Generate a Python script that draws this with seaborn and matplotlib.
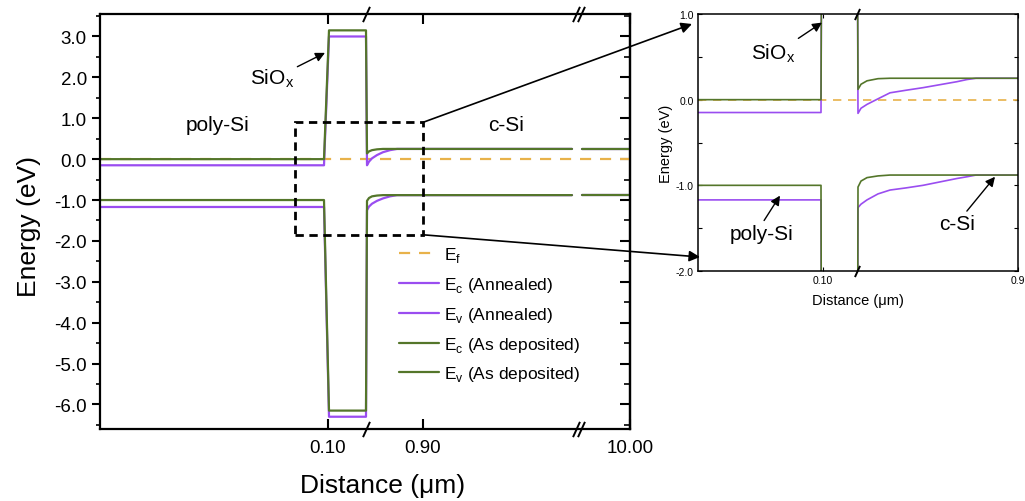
import numpy as np
import pandas as pd
import matplotlib
matplotlib.use('Agg')
import matplotlib.pyplot as plt
import matplotlib.transforms as mtransforms
from matplotlib.patches import Rectangle, ConnectionPatch
from matplotlib.ticker import MultipleLocator, FixedLocator, FixedFormatter
import seaborn as sns

# ---- data (x is position along the broken distance axis) ----
MAIN_X = [0, 224, 229, 266, 267, 269, 272, 277, 283, 290, 297, 472]
GREEN_EC = [0.0, 0.0, 3.15, 3.15, 0.14, 0.19, 0.22, 0.24, 0.25, 0.25, 0.25, 0.25]
PURPLE_EC = [-0.15, -0.15, 3.0, 3.0, -0.15, -0.06, 0.02, 0.1, 0.17, 0.22, 0.25, 0.25]
GREEN_EV = [-1.0, -1.0, -6.15, -6.15, -1.02, -0.95, -0.91, -0.89, -0.88, -0.88, -0.88, -0.88]
PURPLE_EV = [-1.17, -1.17, -6.3, -6.3, -1.25, -1.16, -1.09, -1.02, -0.96, -0.91, -0.88, -0.88]
FAR_X = [482, 530]          # piece after the // break
EF_X = [0, 530]

INSET_X = [0, 123, 124, 159, 160, 163, 169, 180, 192, 208, 225, 242, 259, 269, 278, 320]
IN_GREEN_EC = [0.0, 0.0, 3.15, 3.15, 0.12, 0.18, 0.22, 0.245, 0.25, 0.25, 0.25, 0.25, 0.25, 0.25, 0.25, 0.25]
IN_PURPLE_EC = [-0.15, -0.15, 3.0, 3.0, -0.16, -0.1, -0.055, 0.01, 0.08, 0.11, 0.14, 0.175, 0.21, 0.235, 0.25, 0.25]
IN_GREEN_EV = [-1.0, -1.0, -6.15, -6.15, -1.02, -0.95, -0.91, -0.89, -0.88, -0.88, -0.88, -0.88, -0.88, -0.88, -0.88, -0.88]
IN_PURPLE_EV = [-1.17, -1.17, -6.3, -6.3, -1.26, -1.22, -1.17, -1.1, -1.055, -1.03, -1.0, -0.96, -0.92, -0.9, -0.88, -0.88]
IN_EF_X = [0, 320]

MAIN_TICKS = [228, 323, 530]
MAIN_TICKLABELS = ['0.10', '0.90', '10.00']
INSET_TICKS = [125, 320]
INSET_TICKLABELS = ['0.10', '0.9']

LBL_EF = 'E$_\\mathregular{f}$'
LBL_ECA = 'E$_\\mathregular{c}$ (Annealed)'
LBL_EVA = 'E$_\\mathregular{v}$ (Annealed)'
LBL_ECD = 'E$_\\mathregular{c}$ (As deposited)'
LBL_EVD = 'E$_\\mathregular{v}$ (As deposited)'
ORDER = [LBL_EF, LBL_ECA, LBL_EVA, LBL_ECD, LBL_EVD]

PURPLE = '#9a4df0'
GREEN = '#54762a'
ORANGE = '#e8b24a'
PAL = {LBL_EF: ORANGE, LBL_ECA: PURPLE, LBL_EVA: PURPLE, LBL_ECD: GREEN, LBL_EVD: GREEN}
DASHES = {LBL_EF: (5, 4), LBL_ECA: '', LBL_EVA: '', LBL_ECD: '', LBL_EVD: ''}


def build(xs, series, far=None, ef_x=None):
    rows = []
    for name, ys in series.items():
        for x, y in zip(xs, ys):
            rows.append((x, y, name, 0))
        if far is not None:
            for x in far:
                rows.append((x, ys[-1], name, 1))
    for x in ef_x:
        rows.append((x, 0.0, LBL_EF, 0))
    return pd.DataFrame(rows, columns=['x', 'E', 'series', 'seg'])


main_df = build(MAIN_X, {LBL_ECA: PURPLE_EC, LBL_EVA: PURPLE_EV,
                         LBL_ECD: GREEN_EC, LBL_EVD: GREEN_EV}, FAR_X, EF_X)
inset_df = build(INSET_X, {LBL_ECA: IN_PURPLE_EC, LBL_EVA: IN_PURPLE_EV,
                           LBL_ECD: IN_GREEN_EC, LBL_EVD: IN_GREEN_EV}, None, IN_EF_X)

sns.set_style('ticks')
plt.rcParams['font.family'] = ['Liberation Sans', 'DejaVu Sans']
plt.rcParams['mathtext.fontset'] = 'custom'
plt.rcParams['mathtext.rm'] = 'Liberation Sans'
plt.rcParams.update({'text.color': 'black', 'axes.labelcolor': 'black',
                     'xtick.color': 'black', 'ytick.color': 'black',
                     'axes.edgecolor': 'black'})

fig = plt.figure(figsize=(10.25, 5.02), dpi=100)
ax = fig.add_axes([100 / 1025, 1 - 430 / 502, 530 / 1025, 415 / 502])
ax2 = fig.add_axes([698 / 1025, 1 - 272 / 502, 320 / 1025, 257 / 502])

# ---- main panel ----
sns.lineplot(data=main_df, x='x', y='E', hue='series', style='series', units='seg',
             estimator=None, sort=False, palette=PAL, dashes=DASHES,
             hue_order=ORDER, style_order=ORDER, lw=1.6, ax=ax)
ax.set_xlim(0, 530)
ax.set_ylim(-6.6, 3.55)
ax.yaxis.set_major_locator(MultipleLocator(1))
ax.yaxis.set_minor_locator(MultipleLocator(0.5))
ax.yaxis.set_major_formatter(matplotlib.ticker.FormatStrFormatter('%.1f'))
ax.xaxis.set_major_locator(FixedLocator(MAIN_TICKS))
ax.xaxis.set_major_formatter(FixedFormatter(MAIN_TICKLABELS))
ax.tick_params(axis='y', which='major', direction='out', length=6, width=1.5, labelsize=13.5)
ax.tick_params(axis='y', which='minor', direction='out', length=3, width=1.2)
ax.tick_params(axis='x', which='major', direction='in', length=7, width=1.5, top=True,
               labelsize=13.5, pad=7)
sec = ax.secondary_yaxis('right')
sec.yaxis.set_major_locator(MultipleLocator(1))
sec.yaxis.set_minor_locator(MultipleLocator(0.5))
sec.tick_params(which='major', direction='in', length=7, width=1.5, labelright=False)
sec.tick_params(which='minor', direction='in', length=4, width=1.2)
for sp in list(ax.spines.values()) + list(sec.spines.values()):
    sp.set_linewidth(1.6)
ax.set_xlabel('Distance (\u03bcm)', fontsize=19)
ax.xaxis.set_label_coords(0.534, -0.105)
ax.set_ylabel('Energy (eV)', fontsize=19)
ax.yaxis.set_label_coords(-0.112, 0.49)

leg = ax.legend(loc='upper left', bbox_to_anchor=(0.535, 0.48), frameon=False,
                fontsize=12.5, handlelength=2.3, labelspacing=0.62, handletextpad=0.3)

ax.add_patch(Rectangle((195, -1.85), 128, 2.75, fill=False, ec='k', lw=2,
                       ls=(0, (3, 2)), zorder=6))

ax.annotate('SiO$_\\mathregular{x}$', xy=(225, 2.6), xytext=(172, 2.0), fontsize=15,
            ha='center', va='center',
            arrowprops=dict(arrowstyle='-|>', color='k', lw=1, relpos=(0.95, 0.85),
                            mutation_scale=14, shrinkA=0, shrinkB=0))
ax.text(118, 0.85, 'poly-Si', fontsize=15, ha='center', va='center')
ax.text(406, 0.85, 'c-Si', fontsize=15, ha='center', va='center')


def breaks(a, x, n, gap, size):
    tr = mtransforms.blended_transform_factory(a.transData, a.transAxes)
    for yy in (0, 1):
        for k in range(n):
            a.plot([x + (k - (n - 1) / 2) * gap], [yy], transform=tr,
                   marker=[(-1, -2.2), (1, 2.2)], ms=size, mec='k', mew=1.4,
                   clip_on=False, zorder=7)


breaks(ax, 266, 1, 0, 11)
breaks(ax, 478, 2, 5, 11)

# ---- inset ----
sns.lineplot(data=inset_df, x='x', y='E', hue='series', style='series', units='seg',
             estimator=None, sort=False, palette=PAL, dashes=DASHES,
             hue_order=ORDER, style_order=ORDER, lw=1.2, legend=False, ax=ax2)
ax2.set_xlim(0, 320)
ax2.set_ylim(-2, 1)
ax2.yaxis.set_major_locator(MultipleLocator(1))
ax2.yaxis.set_minor_locator(MultipleLocator(0.5))
ax2.yaxis.set_major_formatter(matplotlib.ticker.FormatStrFormatter('%.1f'))
ax2.xaxis.set_major_locator(FixedLocator(INSET_TICKS))
ax2.xaxis.set_major_formatter(FixedFormatter(INSET_TICKLABELS))
ax2.tick_params(which='both', direction='in', right=True, top=True, labelsize=7.5,
                length=3, width=0.8, pad=3)
for sp in ax2.spines.values():
    sp.set_linewidth(1.1)
ax2.set_xlabel('Distance (\u03bcm)', fontsize=10.5, labelpad=6)
ax2.set_ylabel('Energy (eV)', fontsize=10.5, labelpad=2)
breaks(ax2, 159, 1, 0, 8)

ax2.annotate('SiO$_\\mathregular{x}$', xy=(124, 0.9), xytext=(75, 0.55), fontsize=15,
             ha='center', va='center',
             arrowprops=dict(arrowstyle='-|>', color='k', lw=1, relpos=(0.9, 0.9),
                             mutation_scale=14, shrinkA=0, shrinkB=0))
ax2.annotate('poly-Si', xy=(82, -1.12), xytext=(64, -1.56), fontsize=15,
             ha='center', va='center',
             arrowprops=dict(arrowstyle='-|>', color='k', lw=1, relpos=(0.5, 1.0),
                             mutation_scale=14, shrinkA=0, shrinkB=0))
ax2.annotate('c-Si', xy=(297, -0.9), xytext=(259, -1.45), fontsize=15,
             ha='center', va='center',
             arrowprops=dict(arrowstyle='-|>', color='k', lw=1, relpos=(0.7, 1.0),
                             mutation_scale=14, shrinkA=0, shrinkB=0))

# arrows from the dashed box to the inset
for ya, fx, fy in ((0.9, 692, 25), (-1.85, 700, 258)):
    con = ConnectionPatch(xyA=(323, ya), coordsA=ax.transData,
                          xyB=(fx / 1025, 1 - fy / 502),
                          coordsB=fig.transFigure, arrowstyle='-|>', color='k',
                          lw=1.2, mutation_scale=16, zorder=8)
    fig.add_artist(con)

fig.savefig('out.png', dpi=100)
